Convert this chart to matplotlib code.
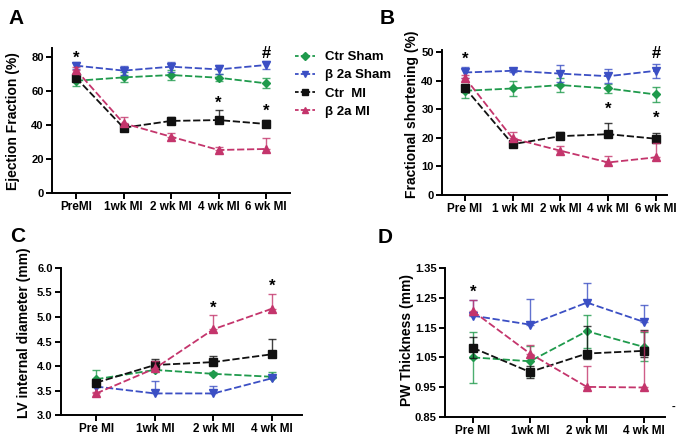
import numpy as np
import matplotlib
matplotlib.use("Agg")
import matplotlib.pyplot as plt
from matplotlib.lines import Line2D

plt.rcParams['font.family'] = ['Liberation Sans', 'DejaVu Sans']
plt.rcParams['font.weight'] = 'bold'

# groups
groups = ['Ctr Sham', 'β 2a Sham', 'Ctr  MI', 'β 2a MI']
colors = ['#1f9a4c', '#3b4fc4', '#111111', '#c4356c']
markers = ['D', 'v', 's', '^']
msizes = [4.5, 5.5, 5.5, 5.5]

# time points
times_ab = ['PreMI', '1wk MI', '2 wk MI', '4 wk MI', '6 wk MI']
times_b = ['Pre MI', '1 wk MI', '2 wk MI', '4 wk MI', '6 wk MI']
times_cd = ['Pre MI', '1wk MI', '2 wk MI', '4 wk MI']

# A: ejection fraction (%)
ef_mean = [
    [66.0, 68.0, 69.4, 67.8, 64.5],
    [74.9, 72.0, 74.3, 72.7, 75.3],
    [67.8, 38.4, 42.4, 42.9, 40.6],
    [72.4, 41.0, 33.1, 25.3, 25.9],
]
ef_lo = [
    [3.0, 3.0, 3.0, 2.0, 3.0],
    [2.0, 2.5, 3.0, 2.5, 2.5],
    [0.0, 0.0, 0.0, 0.0, 0.0],
    [0.0, 0.0, 0.0, 0.0, 0.0],
]
ef_hi = [
    [3.0, 3.0, 3.0, 2.0, 3.0],
    [2.0, 2.5, 3.0, 2.5, 2.5],
    [1.5, 1.5, 2.5, 6.0, 2.5],
    [1.5, 3.5, 2.0, 2.0, 6.3],
]
ef_marks = [(0, 79.0, '*'), (3, 53.0, '*'), (4, 48.0, '*'), (4, 82.0, '#')]

# B: fractional shortening (%)
fs_mean = [
    [36.5, 37.3, 38.5, 37.3, 35.2],
    [42.9, 43.5, 42.5, 41.6, 43.5],
    [37.5, 17.8, 20.6, 21.3, 19.7],
    [41.1, 19.8, 15.5, 11.4, 13.2],
]
fs_lo = [
    [2.5, 2.5, 2.5, 1.5, 2.5],
    [2.0, 0.5, 3.0, 2.5, 2.5],
    [0.0, 0.0, 0.0, 0.0, 0.0],
    [0.0, 0.0, 0.0, 0.0, 0.0],
]
fs_hi = [
    [2.5, 2.5, 2.5, 1.5, 2.5],
    [2.0, 0.5, 3.0, 2.5, 2.5],
    [1.0, 1.0, 1.5, 4.0, 2.0],
    [1.0, 2.3, 1.5, 2.4, 4.9],
]
fs_marks = [(0, 47.6, '*'), (3, 30.0, '*'), (4, 27.0, '*'), (4, 49.5, '#')]

# C: LV internal diameter (mm)
lv_mean = [
    [3.73, 3.92, 3.84, 3.78],
    [3.58, 3.44, 3.44, 3.75],
    [3.66, 4.02, 4.08, 4.24],
    [3.44, 3.95, 4.75, 5.17],
]
lv_lo = [
    [0.0, 0.0, 0.0, 0.0],
    [0.0, 0.0, 0.0, 0.0],
    [0.0, 0.0, 0.0, 0.0],
    [0.0, 0.0, 0.0, 0.0],
]
lv_hi = [
    [0.19, 0.03, 0.03, 0.09],
    [0.03, 0.26, 0.16, 0.03],
    [0.03, 0.12, 0.13, 0.32],
    [0.03, 0.15, 0.29, 0.30],
]
lv_marks = [(2, 5.18, '*'), (3, 5.62, '*')]

# D: PW thickness (mm)
pw_mean = [
    [1.050, 1.037, 1.138, 1.085],
    [1.190, 1.160, 1.234, 1.169],
    [1.082, 1.001, 1.063, 1.072],
    [1.205, 1.063, 0.951, 0.949],
]
pw_lo = [
    [0.085, 0.05, 0.055, 0.047],
    [0.0, 0.0, 0.0, 0.0],
    [0.035, 0.02, 0.02, 0.02],
    [0.0, 0.0, 0.0, 0.0],
]
pw_hi = [
    [0.085, 0.05, 0.055, 0.05],
    [0.052, 0.085, 0.064, 0.056],
    [0.035, 0.02, 0.092, 0.07],
    [0.037, 0.03, 0.07, 0.19],
]
pw_marks = [(0, 1.27, '*')]

W, H = 696, 444
fig = plt.figure(figsize=(W / 100, H / 100), dpi=100)


def px_axes(left, right, top, bottom):
    return fig.add_axes([left / W, (H - bottom) / H, (right - left) / W, (bottom - top) / H])


def draw_panel(ax, labels, means, lo, hi, marks, xlim, ylim, yticks, fmt, ylabel, lab_xy):
    x = np.arange(len(labels))
    for i in range(4):
        ax.errorbar(x, means[i], yerr=[lo[i], hi[i]], fmt='none', ecolor=colors[i],
                    elinewidth=1.0, capsize=3, capthick=1.0, alpha=0.8, zorder=2 + i)
        ax.plot(x, means[i], linestyle=(0, (4, 1.5)), color=colors[i], linewidth=1.3,
                marker=markers[i], markersize=msizes[i], zorder=3 + i)
    for xi, yi, s in marks:
        ax.text(xi, yi, s, ha='center', va='center', fontsize=12, fontweight='bold')
    ax.set_xlim(*xlim)
    ax.set_ylim(*ylim)
    ax.set_xticks(x)
    ax.set_xticklabels(labels, fontsize=8.5, fontweight='bold')
    ax.set_yticks(yticks)
    ax.set_yticklabels([fmt % v for v in yticks], fontsize=8, fontweight='bold')
    for side in ['top', 'right']:
        ax.spines[side].set_visible(False)
    for side in ['left', 'bottom']:
        ax.spines[side].set_linewidth(1.4)
    ax.tick_params(axis='both', direction='out', length=4, width=1.4, pad=2)
    ax.set_ylabel(ylabel, fontsize=10, fontweight='bold')
    ax.yaxis.set_label_coords(*lab_xy)


axA = px_axes(52, 290, 48.5, 193)
draw_panel(axA, times_ab, ef_mean, ef_lo, ef_hi, ef_marks, (-0.505, 4.5), (0, 85),
           [0, 20, 40, 60, 80], '%d', 'Ejection Fraction (%)', (-0.134, 0.5))

axB = px_axes(442, 667, 50.5, 195)
draw_panel(axB, times_b, fs_mean, fs_lo, fs_hi, fs_marks, (-0.48, 4.23), (0, 50.6),
           [0, 10, 20, 30, 40, 50], '%d', 'Fractional shortening (%)', (-0.102, 0.56))

axC = px_axes(61, 302, 268, 415)
draw_panel(axC, times_cd, lv_mean, lv_lo, lv_hi, lv_marks, (-0.6, 3.51), (3.0, 6.0),
           [3.0, 3.5, 4.0, 4.5, 5.0, 5.5, 6.0], '%.1f', 'LV internal diameter (mm)', (-0.125, 0.56))

axD = px_axes(445, 665, 268, 417)
draw_panel(axD, times_cd, pw_mean, pw_lo, pw_hi, pw_marks, (-0.49, 3.37), (0.85, 1.35),
           [0.85, 0.95, 1.05, 1.15, 1.25, 1.35], '%.2f', 'PW Thickness (mm)', (-0.14, 0.52))
fig.text(673 / W, 1 - 407 / H, '-', fontsize=8, fontweight='bold', ha='center', va='center')

# legend
handles = [Line2D([0], [0], color=colors[i], linestyle=(0, (2, 1.2)), linewidth=1.3,
                  marker=markers[i], markersize=msizes[i] - 0.5) for i in range(4)]
fig.legend(handles, groups, loc='upper left', bbox_to_anchor=(295 / W, 1 - 51 / H),
           frameon=False, handlelength=1.5, handletextpad=0.8,
           labelspacing=0.45, borderaxespad=0, borderpad=0,
           prop={'weight': 'bold', 'size': 9.5})

# panel letters
for s, xx, yy in [('A', 16, 18), ('B', 387, 18), ('C', 18, 236), ('D', 385, 237)]:
    fig.text(xx / W, 1 - yy / H, s, fontsize=15, fontweight='bold', ha='center', va='center')

fig.savefig('out.png', dpi=100)
